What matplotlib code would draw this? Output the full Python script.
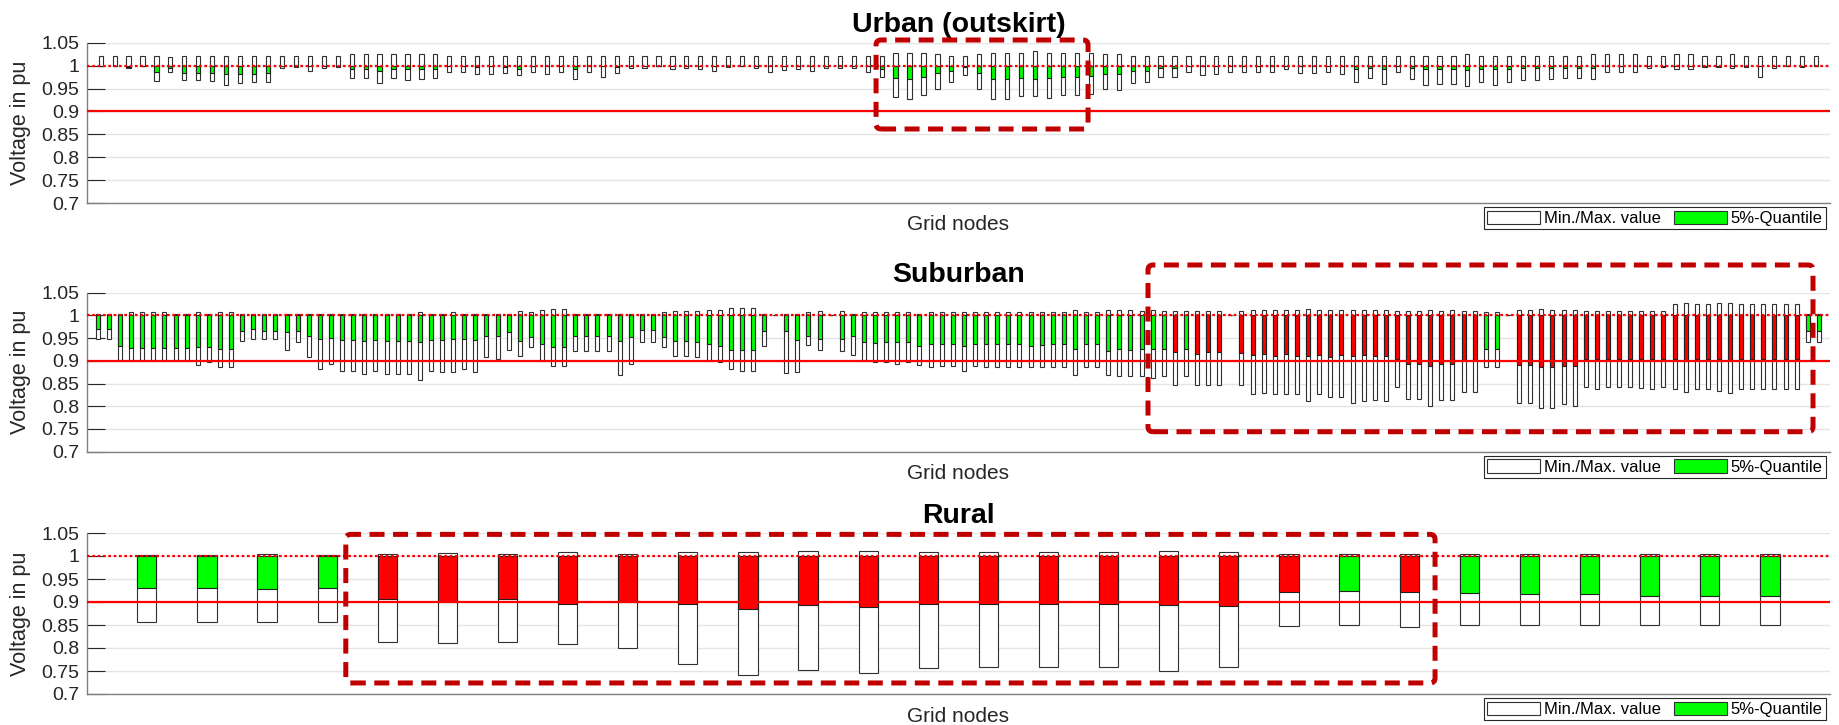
import numpy as np
import matplotlib
matplotlib.use("Agg")
import matplotlib.pyplot as plt
from matplotlib.patches import Patch, FancyBboxPatch
from matplotlib.transforms import IdentityTransform

plt.rcParams['font.family'] = ['Liberation Sans', 'DejaVu Sans']

# ---------------------------------------------------------------- data
# Urban (outskirt): 124 grid nodes
urban_max = [
    1.020, 1.020, 1.020, 1.020, 1.020, 1.018, 1.020, 1.020, 1.020, 1.020,
    1.020, 1.022, 1.022, 1.020, 1.020, 1.020, 1.020, 1.020, 1.025, 1.025,
    1.025, 1.025, 1.025, 1.025, 1.025, 1.020, 1.020, 1.020, 1.020, 1.020,
    1.020, 1.020, 1.020, 1.020, 1.022, 1.022, 1.020, 1.020, 1.020, 1.020,
    1.020, 1.020, 1.020, 1.020, 1.020, 1.020, 1.020, 1.020, 1.020, 1.020,
    1.020, 1.022, 1.020, 1.020, 1.020, 1.020, 1.020, 1.028, 1.028, 1.027,
    1.025, 1.022, 1.020, 1.025, 1.028, 1.028, 1.028, 1.031, 1.028, 1.027,
    1.027, 1.027, 1.025, 1.025, 1.022, 1.022, 1.020, 1.020, 1.022, 1.020,
    1.020, 1.020, 1.020, 1.020, 1.022, 1.020, 1.022, 1.022, 1.022, 1.022,
    1.022, 1.022, 1.022, 1.020, 1.022, 1.022, 1.022, 1.022, 1.025, 1.022,
    1.022, 1.022, 1.022, 1.022, 1.022, 1.022, 1.022, 1.025, 1.025, 1.025,
    1.025, 1.022, 1.022, 1.025, 1.025, 1.022, 1.022, 1.025, 1.022, 1.020,
    1.020, 1.020, 1.020, 1.020,
]
urban_min = [
    1.000, 1.000, 0.994, 1.000, 0.967, 0.985, 0.969, 0.969, 0.967, 0.958,
    0.961, 0.964, 0.965, 0.994, 0.996, 0.989, 0.994, 0.996, 0.972, 0.972,
    0.961, 0.972, 0.969, 0.970, 0.972, 0.987, 0.985, 0.981, 0.981, 0.983,
    0.980, 0.987, 0.982, 0.987, 0.970, 0.987, 0.976, 0.983, 0.994, 0.994,
    1.000, 0.992, 0.994, 0.992, 0.988, 0.998, 1.000, 0.994, 0.987, 0.990,
    0.992, 0.988, 0.994, 0.994, 0.994, 0.985, 0.975, 0.932, 0.926, 0.936,
    0.949, 0.964, 0.980, 0.949, 0.926, 0.926, 0.934, 0.934, 0.930, 0.935,
    0.935, 0.938, 0.949, 0.947, 0.961, 0.964, 0.975, 0.975, 0.985, 0.980,
    0.982, 0.985, 0.985, 0.987, 0.987, 0.992, 0.983, 0.983, 0.987, 0.982,
    0.964, 0.972, 0.960, 0.987, 0.970, 0.958, 0.960, 0.960, 0.956, 0.964,
    0.958, 0.964, 0.969, 0.969, 0.970, 0.972, 0.972, 0.970, 0.987, 0.987,
    0.985, 0.994, 0.996, 0.992, 0.992, 0.996, 0.996, 0.994, 0.996, 0.976,
    0.994, 1.000, 0.996, 1.000,
]
urban_q5 = [
    1.000, 1.000, 0.998, 1.000, 0.985, 0.994, 0.983, 0.983, 0.983, 0.982,
    0.982, 0.982, 0.983, 1.000, 1.000, 1.000, 1.000, 1.000, 0.992, 0.992,
    0.989, 0.992, 0.992, 0.992, 0.992, 1.000, 0.999, 0.998, 0.999, 0.998,
    0.993, 0.999, 0.999, 0.999, 0.992, 0.999, 0.999, 0.996, 0.999, 0.999,
    1.000, 1.000, 0.999, 1.000, 1.000, 1.000, 1.000, 0.999, 1.000, 1.000,
    1.000, 1.000, 0.999, 0.999, 0.999, 1.000, 0.992, 0.972, 0.970, 0.976,
    0.983, 0.989, 0.998, 0.983, 0.970, 0.970, 0.972, 0.970, 0.972, 0.975,
    0.975, 0.977, 0.982, 0.981, 0.988, 0.989, 0.994, 0.994, 1.000, 1.000,
    1.000, 1.000, 1.000, 1.000, 1.000, 1.000, 1.000, 1.000, 1.000, 1.000,
    0.992, 0.994, 0.992, 1.000, 0.994, 0.992, 0.992, 0.992, 0.991, 0.992,
    0.992, 0.992, 0.994, 0.994, 0.994, 0.994, 0.994, 0.994, 1.000, 1.000,
    1.000, 1.000, 1.000, 1.000, 1.000, 1.000, 1.000, 1.000, 1.000, 1.000,
    1.000, 1.000, 0.999, 1.000,
]
urban_red = []

# Suburban: 156 grid nodes
suburban_max = [
    1.004, 1.004, 1.004, 1.007, 1.007, 1.007, 1.007, 1.004, 1.004, 1.007,
    1.004, 1.007, 1.007, 1.004, 1.004, 1.004, 1.004, 1.004, 1.004, 1.004,
    1.004, 1.004, 1.004, 1.004, 1.004, 1.004, 1.004, 1.004, 1.004, 1.007,
    1.004, 1.004, 1.007, 1.004, 1.004, 1.004, 1.004, 1.004, 1.010, 1.007,
    1.013, 1.015, 1.015, 1.004, 1.004, 1.004, 1.004, 1.004, 1.004, 1.004,
    1.004, 1.007, 1.010, 1.010, 1.010, 1.013, 1.013, 1.017, 1.017, 1.017,
    1.004, 1.000, 1.004, 1.004, 1.007, 1.009, 1.000, 1.009, 1.004, 1.007,
    1.007, 1.007, 1.007, 1.007, 1.004, 1.007, 1.007, 1.007, 1.007, 1.007,
    1.007, 1.008, 1.008, 1.008, 1.008, 1.008, 1.008, 1.008, 1.012, 1.008,
    1.008, 1.013, 1.012, 1.013, 1.010, 1.013, 1.010, 1.010, 1.010, 1.010,
    1.010, 1.010, 1.000, 1.010, 1.013, 1.013, 1.013, 1.013, 1.013, 1.015,
    1.013, 1.013, 1.013, 1.013, 1.013, 1.013, 1.013, 1.009, 1.010, 1.010,
    1.013, 1.010, 1.013, 1.009, 1.009, 1.007, 1.007, 1.000, 1.013, 1.013,
    1.015, 1.013, 1.013, 1.013, 1.009, 1.009, 1.009, 1.009, 1.009, 1.009,
    1.009, 1.009, 1.026, 1.028, 1.026, 1.026, 1.028, 1.028, 1.026, 1.026,
    1.026, 1.026, 1.026, 1.026, 1.004, 1.004,
]
suburban_min = [
    0.947, 0.947, 0.900, 0.900, 0.900, 0.900, 0.900, 0.900, 0.900, 0.891,
    0.897, 0.886, 0.886, 0.943, 0.947, 0.947, 0.947, 0.924, 0.942, 0.908,
    0.882, 0.894, 0.877, 0.877, 0.872, 0.877, 0.872, 0.871, 0.871, 0.858,
    0.877, 0.875, 0.875, 0.882, 0.875, 0.908, 0.905, 0.924, 0.911, 0.930,
    0.900, 0.889, 0.889, 0.921, 0.921, 0.921, 0.921, 0.869, 0.893, 0.942,
    0.942, 0.930, 0.911, 0.911, 0.908, 0.900, 0.897, 0.882, 0.878, 0.878,
    0.932, 1.000, 0.873, 0.875, 0.935, 0.924, 1.000, 0.922, 0.913, 0.899,
    0.897, 0.897, 0.894, 0.898, 0.891, 0.887, 0.889, 0.889, 0.878, 0.889,
    0.887, 0.887, 0.887, 0.887, 0.887, 0.887, 0.887, 0.887, 0.869, 0.887,
    0.887, 0.869, 0.867, 0.867, 0.867, 0.862, 0.867, 0.847, 0.867, 0.847,
    0.847, 0.847, 1.000, 0.847, 0.827, 0.830, 0.827, 0.827, 0.827, 0.812,
    0.827, 0.821, 0.820, 0.807, 0.811, 0.814, 0.811, 0.843, 0.816, 0.816,
    0.800, 0.814, 0.814, 0.832, 0.832, 0.886, 0.886, 1.000, 0.807, 0.807,
    0.796, 0.796, 0.805, 0.801, 0.843, 0.839, 0.843, 0.843, 0.843, 0.841,
    0.838, 0.843, 0.838, 0.832, 0.838, 0.838, 0.834, 0.830, 0.838, 0.838,
    0.838, 0.838, 0.838, 0.838, 0.942, 0.942,
]
suburban_q5 = [
    0.969, 0.969, 0.933, 0.929, 0.929, 0.929, 0.929, 0.929, 0.929, 0.931,
    0.931, 0.925, 0.925, 0.966, 0.969, 0.966, 0.966, 0.963, 0.966, 0.955,
    0.947, 0.951, 0.946, 0.946, 0.943, 0.946, 0.943, 0.943, 0.943, 0.941,
    0.946, 0.946, 0.947, 0.947, 0.946, 0.955, 0.954, 0.963, 0.943, 0.953,
    0.936, 0.930, 0.930, 0.955, 0.955, 0.955, 0.955, 0.943, 0.952, 0.968,
    0.968, 0.953, 0.943, 0.943, 0.941, 0.936, 0.933, 0.924, 0.924, 0.924,
    0.965, 1.000, 0.965, 0.946, 0.955, 0.949, 1.000, 0.949, 0.954, 0.942,
    0.940, 0.941, 0.941, 0.941, 0.933, 0.936, 0.936, 0.936, 0.933, 0.936,
    0.936, 0.938, 0.936, 0.936, 0.933, 0.935, 0.936, 0.938, 0.927, 0.936,
    0.936, 0.922, 0.925, 0.924, 0.925, 0.925, 0.925, 0.920, 0.925, 0.914,
    0.920, 0.920, 1.000, 0.918, 0.913, 0.914, 0.910, 0.914, 0.910, 0.910,
    0.913, 0.909, 0.913, 0.910, 0.913, 0.910, 0.910, 0.905, 0.893, 0.893,
    0.889, 0.893, 0.893, 0.902, 0.902, 0.925, 0.925, 1.000, 0.891, 0.891,
    0.887, 0.887, 0.889, 0.889, 0.905, 0.905, 0.903, 0.905, 0.905, 0.903,
    0.905, 0.905, 0.903, 0.900, 0.903, 0.903, 0.903, 0.900, 0.903, 0.903,
    0.903, 0.903, 0.903, 0.903, 0.966, 0.966,
]
suburban_red = ([98, 100, 101, 102] + list(range(104, 126))
                + list(range(129, 155)))

# Rural: 28 grid nodes
rural_max = [
    1.003, 1.003, 1.005, 1.003, 1.005, 1.006, 1.005, 1.008, 1.005, 1.008,
    1.008, 1.010, 1.010, 1.008, 1.008, 1.008, 1.008, 1.010, 1.008, 1.005,
    1.005, 1.005, 1.005, 1.004, 1.004, 1.004, 1.004, 1.004,
]
rural_min = [
    0.857, 0.857, 0.856, 0.856, 0.812, 0.810, 0.812, 0.808, 0.801, 0.765,
    0.742, 0.753, 0.746, 0.757, 0.758, 0.759, 0.759, 0.749, 0.759, 0.847,
    0.851, 0.846, 0.850, 0.851, 0.851, 0.851, 0.849, 0.851,
]
rural_q5 = [
    0.930, 0.931, 0.928, 0.930, 0.907, 0.901, 0.907, 0.895, 0.901, 0.895,
    0.884, 0.893, 0.889, 0.895, 0.895, 0.895, 0.895, 0.893, 0.891, 0.921,
    0.925, 0.921, 0.920, 0.918, 0.918, 0.914, 0.912, 0.912,
]
rural_red = list(range(5, 21)) + [22]

y_ticks = [0.7, 0.75, 0.8, 0.85, 0.9, 0.95, 1.0, 1.05]
v_nominal = 1.0
v_lower_limit = 0.9

# ---------------------------------------------------------------- figure
W, H, DPI = 1839, 725, 100
fig = plt.figure(figsize=(W / DPI, H / DPI), dpi=DPI)

GREEN = '#00ff00'
RED = '#ff0000'
BOX_RED = '#c00000'
EDGE = '#262626'


def axes_px(left, top, right, bottom):
    """Create axes from a pixel rectangle (origin at the top left)."""
    return fig.add_axes([left / W, 1 - bottom / H,
                         (right - left) / W, (bottom - top) / H])


def draw_panel(ax, title, vmax, vmin, q5, red_nodes, width, box):
    vmax = np.asarray(vmax)
    vmin = np.asarray(vmin)
    q5 = np.asarray(q5)
    n = len(vmax)
    x = np.arange(1, n + 1)

    # min/max range of every node
    ax.bar(x, vmax - vmin, bottom=vmin, width=width, facecolor='white',
           edgecolor='#303030', linewidth=0.8, zorder=2)
    # 5 % quantile, drawn from the nominal voltage downwards
    colors = [RED if i in red_nodes else GREEN for i in x]
    ax.bar(x, q5 - v_nominal, bottom=v_nominal, width=width, color=colors,
           edgecolor='#202020', linewidth=0.8, zorder=3)

    ax.axhline(v_lower_limit, color=RED, lw=1.6, zorder=4)
    ax.axhline(v_nominal, color=RED, lw=1.6, ls=(0, (1.2, 1.2)), zorder=4)

    ax.set_xlim(0, n + 1)
    ax.set_ylim(0.7, 1.05)
    ax.set_yticks(y_ticks)
    ax.set_yticklabels([f'{v:g}' for v in y_ticks])
    ax.set_xticks([])
    ax.yaxis.grid(True, color='#e4e4e4', lw=1.0)
    ax.set_axisbelow(True)
    ax.tick_params(axis='y', direction='in', length=12.7, width=0.8,
                   color=EDGE, labelsize=14, pad=5.5, labelcolor='#262626')
    for side in ('top', 'right'):
        ax.spines[side].set_visible(False)
    for side in ('left', 'bottom'):
        ax.spines[side].set_color('#808080')
        ax.spines[side].set_linewidth(1.0)

    ax.set_title(title, fontsize=20.5, fontweight='bold', pad=7.5)
    ax.set_xlabel('Grid nodes', fontsize=15, va='center', color='#262626')
    h_px = ax.get_position().height * H
    ax.xaxis.set_label_coords(0.5, -22 / h_px)
    ax.set_ylabel('Voltage in pu', fontsize=15.5, va='center',
                  color='#262626')
    ax.yaxis.set_label_coords(-0.0377, 0.5)

    handles = [Patch(facecolor='white', edgecolor='#303030', lw=0.8,
                     label='Min./Max. value'),
               Patch(facecolor=GREEN, edgecolor='#303030', lw=0.8,
                     label='5%-Quantile')]
    leg = ax.legend(handles=handles, ncol=2, loc='upper right',
                    bbox_to_anchor=(0.9977, -4.3 / h_px), fontsize=12,
                    frameon=True, fancybox=False, edgecolor=EDGE,
                    framealpha=1, borderpad=0.2, handlelength=3.2,
                    handleheight=0.85, handletextpad=0.22,
                    columnspacing=0.78, borderaxespad=0)
    leg.get_frame().set_linewidth(0.8)

    # highlighted region, given in node / voltage units
    x0, x1, y0, y1 = box
    (px0, py0), (px1, py1) = ax.transData.transform([(x0, y0), (x1, y1)])
    frame = FancyBboxPatch((px0, py0), px1 - px0, py1 - py0,
                           boxstyle='round,pad=0,rounding_size=5',
                           transform=IdentityTransform(), fill=False,
                           edgecolor=BOX_RED, lw=3.6, ls=(0, (3, 1.7)),
                           clip_on=False, zorder=10)
    fig.add_artist(frame)


ax_u = axes_px(86.7, 42.7, 1830, 203)
ax_s = axes_px(86.7, 292.7, 1830, 451.7)
ax_r = axes_px(86.7, 533, 1830, 694)

draw_panel(ax_u, 'Urban (outskirt)', urban_max, urban_min, urban_q5,
           urban_red, 0.30, (56.6, 71.8, 0.8616, 1.0559))
draw_panel(ax_s, 'Suburban', suburban_max, suburban_min, suburban_q5,
           suburban_red, 0.36, (95.58, 155.47, 0.744, 1.111))
draw_panel(ax_r, 'Rural', rural_max, rural_min, rural_q5,
           rural_red, 0.32, (4.31, 22.43, 0.724, 1.047))

fig.savefig('out.png', dpi=DPI, facecolor='white')
